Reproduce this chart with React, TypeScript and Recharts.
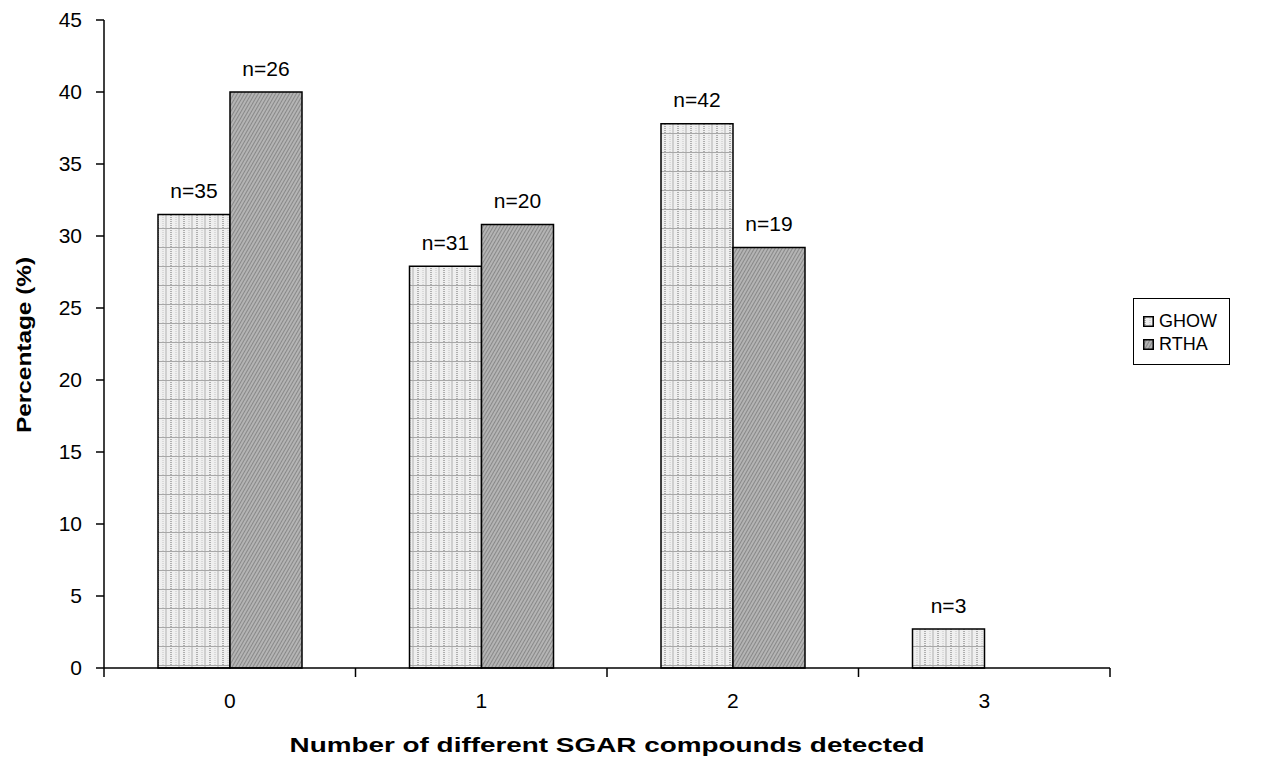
import React from 'react';
import { BarChart, Bar, XAxis, YAxis, Legend, LabelList } from 'recharts';

const categories = ['0', '1', '2', '3'];
const ghowPct = [31.5, 27.9, 37.8, 2.7];
const rthaPct = [40, 30.8, 29.2, 0];
const ghowN = [35, 31, 42, 3];
const rthaN = [26, 20, 19, 0];
const yTicks = [0, 5, 10, 15, 20, 25, 30, 35, 40, 45];

const data = categories.map((c, i) => ({
    name: c,
    GHOW: ghowPct[i],
    RTHA: rthaPct[i],
    ghowN: ghowN[i],
    rthaN: rthaN[i],
}));

const FONT = '"Liberation Sans", Arial, sans-serif';
const W = 1272;
const H = 775;
const MARGIN = { top: 20, right: 162, bottom: 47, left: 0 };
const Y_W = 104;
// width of one category band, used to put the x ticks on the band edges
const BAND = (W - MARGIN.left - MARGIN.right - Y_W) / categories.length;

const series = [
    { key: 'GHOW', nKey: 'ghowN', fill: 'url(#ghowPat)' },
    { key: 'RTHA', nKey: 'rthaN', fill: 'url(#rthaPat)' },
];

const CatTick = (props: any) => {
    const { x, y, payload, index } = props;
    const last = index === categories.length - 1;
    return (
        <g>
            <line x1={x - BAND / 2} y1={y} x2={x - BAND / 2} y2={y + 9} stroke="#000" strokeWidth={1.5} />
            {last && <line x1={x + BAND / 2} y1={y} x2={x + BAND / 2} y2={y + 9} stroke="#000" strokeWidth={1.5} />}
            <text x={x} y={y + 32} textAnchor="middle" dominantBaseline="central" fontSize={21} fontFamily={FONT} fill="#000">
                {payload.value}
            </text>
        </g>
    );
};

const countLabel = (props: any) => {
    const { x, y, width, value } = props;
    if (!value) return null;
    return (
        <text x={x + width / 2} y={y - 24} textAnchor="middle" dominantBaseline="central" fontSize={21} fontFamily={FONT} fill="#000">
            {'n=' + value}
        </text>
    );
};

const LegendBox = () => (
    <div
        style={{
            border: '1.5px solid #000',
            background: '#fff',
            padding: '11px 0 8px 9px',
            fontFamily: FONT,
            fontSize: 18,
            lineHeight: '23px',
            width: 86,
            boxSizing: 'content-box',
        }}
    >
        {series.map((s) => (
            <div key={s.key} style={{ display: 'flex', alignItems: 'center' }}>
                <svg width={11} height={11} style={{ marginRight: 5 }}>
                    <rect x={0.75} y={0.75} width={9.5} height={9.5} fill={s.fill} stroke="#000" strokeWidth={1.5} />
                </svg>
                <span>{s.key}</span>
            </div>
        ))}
    </div>
);

export default function App() {
    return (
        <div style={{ position: 'absolute', left: 0, top: 0, width: W, height: H, background: '#fff' }}>
            <BarChart width={W} height={H} data={data} margin={MARGIN} barGap={0}>
                <defs>
                    <pattern id="ghowPat" width={13} height={19} patternUnits="userSpaceOnUse">
                        <rect width={13} height={19} fill="#efefef" />
                        <line x1={2} y1={0} x2={2} y2={19} stroke="#999" strokeWidth={1.5} strokeDasharray="1 1" />
                        <line x1={7} y1={0} x2={7} y2={19} stroke="#c4c4c4" strokeWidth={1} strokeDasharray="1 1" />
                        <line x1={10} y1={0} x2={10} y2={19} stroke="#b0b0b0" strokeWidth={1} />
                        <line x1={0} y1={0.5} x2={13} y2={0.5} stroke="#a8a8a8" strokeWidth={1} />
                    </pattern>
                    <pattern id="rthaPat" width={3} height={3} patternUnits="userSpaceOnUse" patternTransform="rotate(30)">
                        <rect width={3} height={3} fill="#b4b4b4" />
                        <line x1={0} y1={0} x2={0} y2={3} stroke="#6a6a6a" strokeWidth={1.2} />
                    </pattern>
                </defs>
                <XAxis
                    dataKey="name"
                    tick={<CatTick />}
                    tickLine={false}
                    tickSize={0}
                    tickMargin={0}
                    interval={0}
                    axisLine={{ stroke: '#000', strokeWidth: 1.5 }}
                    height={60}
                    label={{
                        content: (p: any) => (
                            <text
                                x={p.viewBox.x + p.viewBox.width / 2}
                                y={p.viewBox.y + 77}
                                textAnchor="middle"
                                dominantBaseline="central"
                                fontSize={20}
                                fontWeight="bold"
                                fontFamily={FONT}
                                fill="#000"
                                textLength={635}
                                lengthAdjust="spacingAndGlyphs"
                            >
                                Number of different SGAR compounds detected
                            </text>
                        ),
                    }}
                />
                <YAxis
                    width={Y_W}
                    domain={[0, 45]}
                    ticks={yTicks}
                    interval={0}
                    tickSize={8}
                    tickMargin={14}
                    tickLine={{ stroke: '#000', strokeWidth: 1.5 }}
                    axisLine={{ stroke: '#000', strokeWidth: 1.5 }}
                    tick={{ fontSize: 21, fontFamily: FONT, fill: '#000' }}
                    label={{
                        content: () => (
                            <text
                                x={24}
                                y={345}
                                transform="rotate(-90 24 345)"
                                textAnchor="middle"
                                dominantBaseline="central"
                                fontSize={20}
                                fontWeight="bold"
                                fontFamily={FONT}
                                fill="#000"
                                textLength={176}
                                lengthAdjust="spacingAndGlyphs"
                            >
                                Percentage (%)
                            </text>
                        ),
                    }}
                />
                <Legend
                    layout="horizontal"
                    verticalAlign="middle"
                    align="center"
                    content={<LegendBox />}
                    wrapperStyle={{ position: 'absolute', left: 1133, top: 298, width: 'auto' }}
                />
                {series.map((s) => (
                    <Bar
                        key={s.key}
                        dataKey={s.key}
                        fill={s.fill}
                        stroke="#000"
                        strokeWidth={1.5}
                        barSize={72}
                        isAnimationActive={false}
                    >
                        <LabelList dataKey={s.nKey} content={countLabel} />
                    </Bar>
                ))}
            </BarChart>
        </div>
    );
}
